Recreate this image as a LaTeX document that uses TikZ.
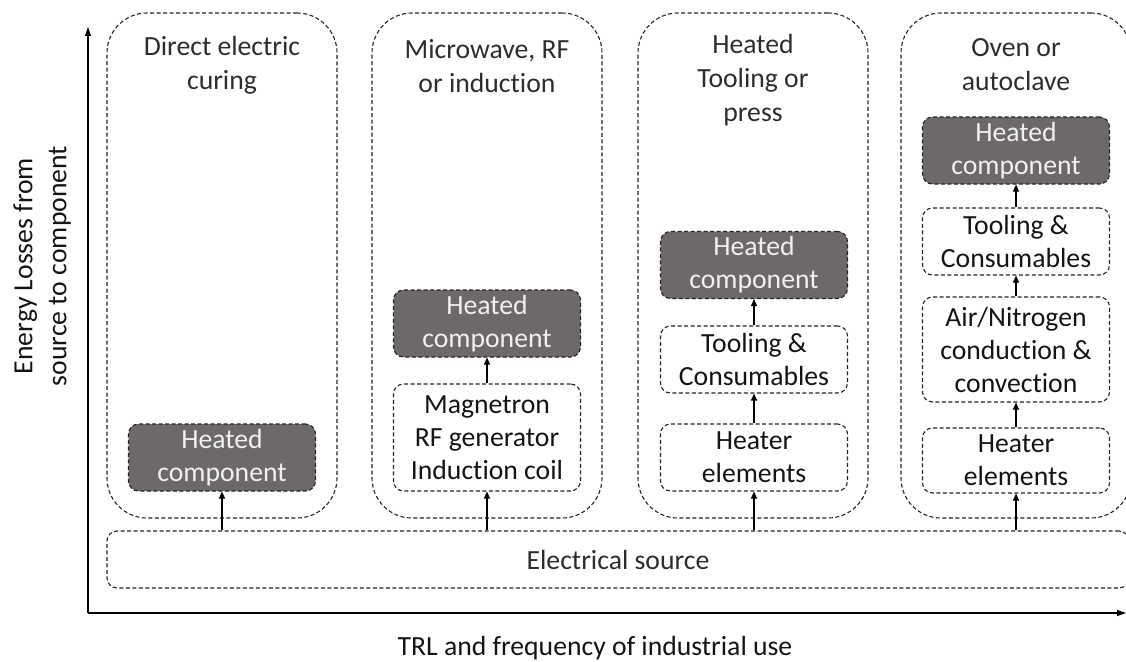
\documentclass[tikz,border=0pt]{standalone}
\usepackage{fontspec}
\setmainfont{Carlito}[Ligatures=NoCommon]
\usetikzlibrary{arrows.meta}
\definecolor{heat}{RGB}{110,105,105}
\definecolor{dashc}{RGB}{35,35,35}
\definecolor{txt}{RGB}{20,20,20}
\definecolor{lighttxt}{RGB}{45,45,45}
\begin{document}
\begin{tikzpicture}[x=1pt,y=-1pt,
 dbox/.style={draw=dashc, line width=1.1pt, dash pattern=on 4pt off 2.5pt},
 colbox/.style={dbox, rounded corners=40pt, minimum width=230pt, minimum height=505pt, inner sep=0pt},
 inbox/.style={dbox, rounded corners=10pt, minimum width=187pt, inner sep=0pt, align=center, font=\fontsize{27.7}{33}\selectfont, text=txt},
 heated/.style={inbox, fill=heat, text=white!94!black, minimum height=67pt},
 title/.style={align=center, font=\fontsize{27.7}{34}\selectfont, text=lighttxt, inner sep=0pt},
 arr/.style={-{Triangle[length=7pt,width=6pt]}, line width=1.1pt, black},
 axis/.style={-{Triangle[length=9pt,width=6pt]}, line width=1.3pt, black}
]
\useasboundingbox (0,0) rectangle (1126,661);
\clip (0,0) rectangle (1126,661);

% axes
\coordinate (org) at (88,613);
\coordinate (ytop) at (88,27);
\coordinate (xend) at (1126,613);
\draw[axis] (org) -- (ytop);
\draw[axis] (org) -- (xend);
\node[title, rotate=90, text=txt] (ylab) at (42,266) {Energy Losses from\\source to component};
\node[title, text=txt] (xlab) at (595,648) {TRL and frequency of industrial use};

% electrical source
\node[dbox, rounded corners=10pt, minimum width=1022pt, minimum height=57pt, inner sep=0pt,
      font=\fontsize{27.7}{33}\selectfont, text=lighttxt] (elec) at (618,559.5) {Electrical source};

% columns
\node[colbox] (c1) at (222,265.5) {};
\node[colbox] (c2) at (487,265.5) {};
\node[colbox] (c3) at (753,265.5) {};
\node[colbox] (c4) at (1016,265.5) {};

\node[title] (t1) at (222,65) {Direct electric\\curing};
\node[title] (t2) at (487,66) {Microwave, RF\\or induction};
\node[title] (t3) at (753,80) {Heated\\Tooling or\\press};
\node[title] (t4) at (1016,65) {Oven or\\autoclave};

% column 1
\node[heated] (h1) at (222,457.5) {Heated\\component};
% column 2
\node[heated] (h2) at (487,323.5) {Heated\\component};
\node[inbox, minimum height=107pt] (m2) at (487,437.5) {Magnetron\\RF generator\\Induction coil};
% column 3
\node[heated] (h3) at (754,265) {Heated\\component};
\node[inbox, minimum height=67pt] (tc3) at (754,359.5) {Tooling \&\\Consumables};
\node[inbox, minimum height=67pt] (he3) at (754,457.5) {Heater\\elements};
% column 4
\node[heated] (h4) at (1016,150.5) {Heated\\component};
\node[inbox, minimum height=67pt] (tc4) at (1016,241.5) {Tooling \&\\Consumables};
\node[inbox, minimum height=105pt] (an4) at (1016,349.5) {Air/Nitrogen\\conduction \&\\convection};
\node[inbox, minimum height=65pt] (he4) at (1016,460.5) {Heater\\elements};

% arrows
\draw[arr] (elec.north -| h1.south) -- (h1.south);
\draw[arr] (elec.north -| m2.south) -- (m2.south);
\draw[arr] (m2.north) -- (h2.south);
\draw[arr] (elec.north -| he3.south) -- (he3.south);
\draw[arr] (he3.north) -- (tc3.south);
\draw[arr] (tc3.north) -- (h3.south);
\draw[arr] (elec.north -| he4.south) -- (he4.south);
\draw[arr] (he4.north) -- (an4.south);
\draw[arr] (an4.north) -- (tc4.south);
\draw[arr] (tc4.north) -- (h4.south);
\end{tikzpicture}
\end{document}
